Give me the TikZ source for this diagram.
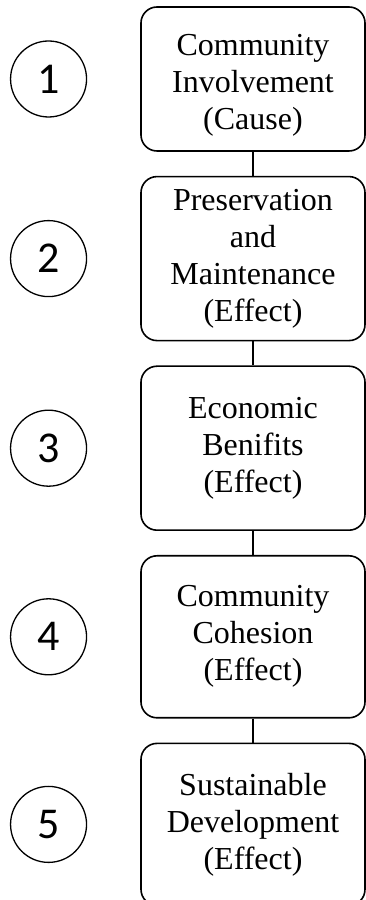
\documentclass[tikz,border=0pt]{standalone}
\usepackage{fontspec}
\setmainfont{Liberation Serif}
\newfontfamily\numfont{Carlito}
\usetikzlibrary{positioning}

\begin{document}
\begin{tikzpicture}[x=1pt,y=1pt,
  stage/.style={draw, line width=1.6pt, rounded corners=16pt, minimum width=224pt,
    text width=218pt, align=center, inner sep=0pt,
    font=\fontsize{32}{37}\selectfont},
  num/.style={draw, circle, line width=1.3pt, minimum size=76pt, inner sep=0pt,
    font=\numfont\fontsize{44}{44}\selectfont}]

\useasboundingbox (0,0) rectangle (366,900);

\node[stage, minimum height=144pt] (b1) at (253,821) {\parbox{218pt}{\centering\vspace*{12pt}Community\\Involvement\\(Cause)}};
\node[stage, minimum height=164pt, below=24pt of b1] (b2) {Preservation\\and\\Maintenance\\(Effect)};
\node[stage, minimum height=164pt, below=24pt of b2] (b3) {Economic\\Benifits\\(Effect)};
\node[stage, minimum height=162pt, below=24pt of b3] (b4) {Community\\Cohesion\\(Effect)};
\node[stage, minimum height=162pt, below=24pt of b4] (b5) {Sustainable\\Development\\(Effect)};

\foreach \i/\j in {1/2,2/3,3/4,4/5}{
\draw[line width=1.6pt] (b\i) -- (b\j);
}

\foreach \i in {1,...,5}{
\node[num, left=53pt of b\i] (c\i) {\i};
}

\end{tikzpicture}
\end{document}
